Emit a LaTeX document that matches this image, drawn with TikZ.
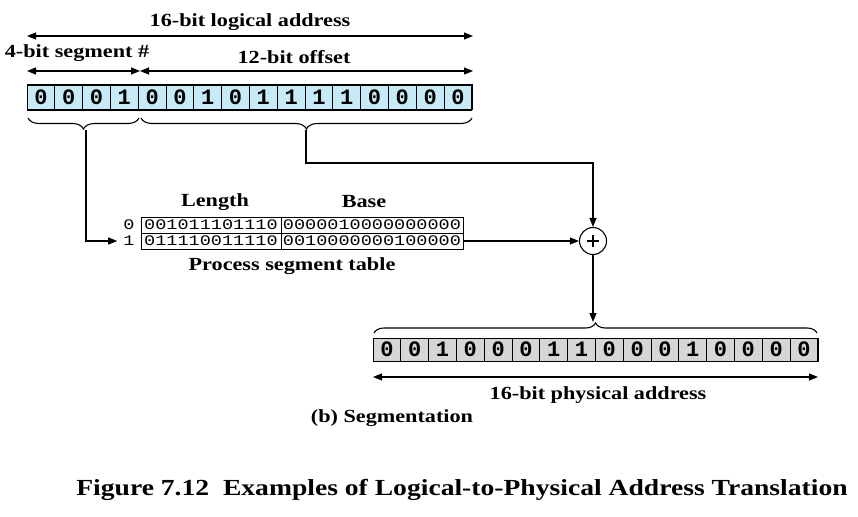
\documentclass[tikz,border=0pt]{standalone}
\usepackage{fontspec}
\setmainfont{Liberation Serif}[FakeStretch=1.2]
\newfontfamily\cellfont{Liberation Mono}
\newfontfamily\tabfont{Liberation Mono}[FakeStretch=1.27]
\usetikzlibrary{arrows.meta,decorations.pathreplacing}
\definecolor{logblue}{RGB}{198,235,246}
\definecolor{physgrey}{RGB}{214,214,214}
\begin{document}
\begin{tikzpicture}[x=1pt,y=-1pt,
  lbl/.style={font=\fontsize{18.5}{20}\selectfont\bfseries, inner sep=0},
  bitL/.style={draw=black, line width=0.9pt, fill=logblue, minimum width=27.8pt, minimum height=25pt, inner sep=0, font=\cellfont\fontsize{22}{22}\selectfont\bfseries},
  bitP/.style={draw=black, line width=0.9pt, fill=physgrey, minimum width=27.8pt, minimum height=23pt, inner sep=0, font=\cellfont\fontsize{22}{22}\selectfont\bfseries},
  tcell/.style={draw=black, line width=0.9pt, minimum height=16pt, inner sep=0, font=\tabfont\fontsize{14.6}{14.6}\selectfont},
  rowlab/.style={inner sep=0, font=\tabfont\fontsize{14.6}{14.6}\selectfont},
  arr/.style={-{Triangle[length=9pt,width=7pt]}},
  dbl/.style={{Triangle[length=9pt,width=7pt]}-{Triangle[length=9pt,width=7pt]}},
  conn/.style={line width=1.1pt},
  bracestyle/.style={line width=1.1pt, decorate}
]
\useasboundingbox (0,0) rectangle (858,516);
\fill[white] (0,0) rectangle (858,516);

% top labels and arrows
\node[lbl] (logtxt) at (250,22) {16-bit logical address};
\coordinate (la) at (27,36); \coordinate (lb) at (473,36);
\draw[conn,dbl] (la) -- (lb);
\node[lbl] (segtxt) at (77,53) {4-bit segment \#};
\node[lbl] (offtxt) at (294,57) {12-bit offset};
\coordinate (sa) at (27,71); \coordinate (sb) at (140,71); \coordinate (sc) at (473,71);
\draw[conn,dbl] (sa) -- (sb);
\draw[conn,dbl] (sb) -- (sc);

% logical address cells
\foreach \b [count=\i from 0] in {0,0,0,1,0,0,1,0,1,1,1,1,0,0,0,0}
  \node[bitL] (L\i) at ({27+13.9+27.8*\i},97.5) {\b};
\draw[line width=1pt] (27,85) rectangle (472,110);

% braces under logical address
\draw[bracestyle, decoration={brace,amplitude=11pt}] (139,118) -- (28,118);
\draw[bracestyle, decoration={brace,amplitude=11pt}] (472,118) -- (141,118);
\coordinate (segtip) at (86,130);
\coordinate (offtip) at (306,130);
\coordinate (offturn) at (306,163);

% segment table
\node[lbl] (lenhd) at (215,202) {Length};
\node[lbl] (basehd) at (364,202) {Base};
\node[tcell, minimum width=140pt] (len0) at (211,225) {001011101110};
\node[tcell, minimum width=182pt] (base0) at (372,225) {0000010000000000};
\node[tcell, minimum width=140pt] (len1) at (211,241) {011110011110};
\node[tcell, minimum width=182pt] (base1) at (372,241) {0010000000100000};
\node[rowlab] (lab0) at (129,225) {0};
\node[rowlab] (lab1) at (129,241) {1};
\node[lbl] (pst) at (292,266) {Process segment table};

% adder
\node[draw, circle, line width=1.1pt, minimum size=27pt, inner sep=0] (plus) at (593,241) {};
\draw[line width=2pt] ([xshift=-6pt]plus.center) -- ([xshift=6pt]plus.center);
\draw[line width=2pt] ([yshift=-6pt]plus.center) -- ([yshift=6pt]plus.center);

% connectors
\draw[conn,arr] (segtip) |- ([xshift=-6pt]lab1.west);
\draw[conn,arr] (offtip) -- (offturn) -| (plus.north);
\draw[conn,arr] (base1.east) -- (plus.west);
\coordinate (phystip) at (593,322);
\draw[conn,arr] (plus.south) -- (phystip);

% physical address
\draw[bracestyle, decoration={brace,amplitude=10pt}] (374,333) -- (817,333);
\foreach \b [count=\i from 0] in {0,0,1,0,0,0,1,1,0,0,0,1,0,0,0,0}
  \node[bitP] (P\i) at ({373+13.9+27.8*\i},349.5) {\b};
\draw[line width=1pt] (373,338) rectangle (818,361);
\coordinate (pa) at (373,377); \coordinate (pb) at (818,377);
\draw[conn,dbl] (pa) -- (pb);
\node[lbl] (phystxt) at (598,395) {16-bit physical address};
\node[lbl] (segcap) at (392,418) {(b) Segmentation};

\node[font=\fontsize{23}{25}\selectfont\bfseries, inner sep=0] (caption) at (462,490) {Figure 7.12\ \ Examples of Logical-to-Physical Address Translation};
\end{tikzpicture}
\end{document}
